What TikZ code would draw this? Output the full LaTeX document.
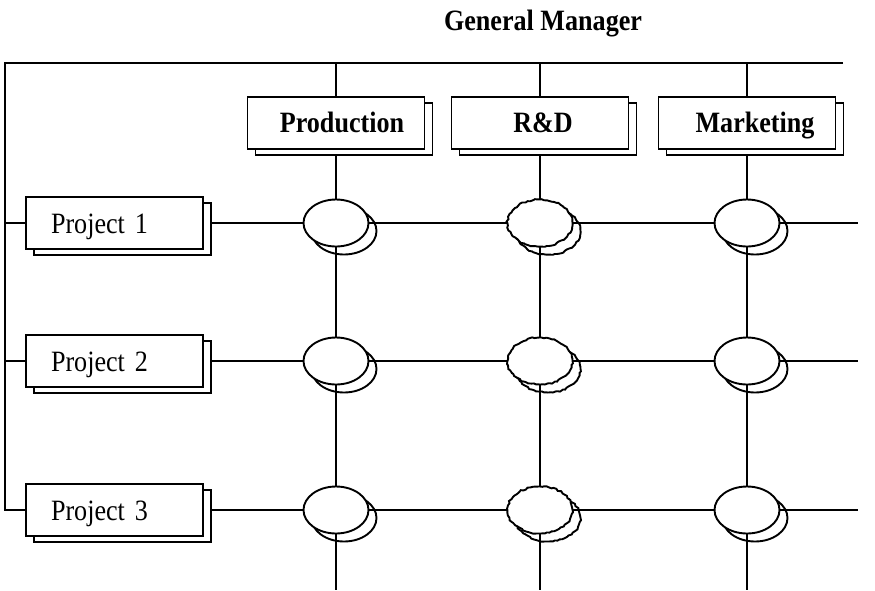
\documentclass[tikz,border=0pt]{standalone}
\usepackage{fontspec}
\setmainfont[FakeStretch=0.885]{Liberation Serif}
\usetikzlibrary{shadows,backgrounds,shapes.geometric,decorations.pathmorphing}
\begin{document}
\pgfmathsetseed{7}
\begin{tikzpicture}[x=1pt,y=-1pt,
  lw/.style={line width=1.9pt},
  conn/.style={lw},
  big/.style={font=\fontsize{29.5}{34}\selectfont},
  bigbold/.style={font=\fontsize{29.5}{34}\selectfont\bfseries},
  dept/.style={draw, lw, fill=white, minimum width=177pt,
    minimum height=52pt, inner sep=0pt, text height=22pt, text depth=4pt,
    bigbold,
    copy shadow={shadow xshift=8pt, shadow yshift=-6pt, lw}},
  proj/.style={draw, lw, fill=white, minimum height=52pt,
    text width=127pt, align=left, inner xsep=25pt, inner ysep=0pt,
    text height=24pt, text depth=4pt, big,
    copy shadow={shadow xshift=8pt, shadow yshift=-6pt, lw}},
  link/.style={ellipse, draw, lw, fill=white,
    minimum width=65pt, minimum height=47pt, inner sep=0pt,
    general shadow={shadow xshift=8pt, shadow yshift=-8pt, draw, lw}},
  rough/.style={decorate, decoration={random steps, segment length=2.5pt, amplitude=0.75pt}}]

\useasboundingbox (0,0) rectangle (875,590);

% title
\node[bigbold, anchor=base] (gm) at (543,30) {General Manager};

% frame of the reporting lines
\coordinate (tl) at (5,63);
\coordinate (tr) at (843,63);

% functional departments
\node[dept] (prod) at (336,123) {\hspace*{12pt}Production};
\node[dept] (rd)   at (540,123) {\hspace*{6pt}R\&D};
\node[dept] (mkt)  at (747,123) {\hspace*{16pt}Marketing};

% projects
\node[proj] (p1) at (114.5,223) {Project 1};
\node[proj] (p2) at (114.5,361) {Project 2};
\node[proj] (p3) at (114.5,510) {Project 3};

% matrix intersections
\foreach \r/\y in {1/223, 2/361, 3/510} {
  \node[link] (e\r1) at (336,\y) {};
  \node[link, rough] (e\r2) at (540,\y) {};
  \node[link] (e\r3) at (747,\y) {};
  \coordinate (r\r) at (858,\y);
}

% ends of the department lines
\foreach \c/\x in {1/336, 2/540, 3/747} {
  \coordinate (d\c) at (\x,63);
  \coordinate (b\c) at (\x,590);
}

\begin{scope}[on background layer]
  \draw[conn] (tr) -- (tl) |- (p3.west);
  \draw[conn] (p1.west) -- (p1.west -| tl);
  \draw[conn] (p2.west) -- (p2.west -| tl);
  \draw[conn] (d1) -- (prod) -- (e11) -- (e21) -- (e31) -- (b1);
  \draw[conn] (d2) -- (rd)   -- (e12) -- (e22) -- (e32) -- (b2);
  \draw[conn] (d3) -- (mkt)  -- (e13) -- (e23) -- (e33) -- (b3);
  \foreach \r in {1,2,3}
    \draw[conn] (p\r) -- (e\r1) -- (e\r2) -- (e\r3) -- (r\r);
\end{scope}
\end{tikzpicture}
\end{document}
